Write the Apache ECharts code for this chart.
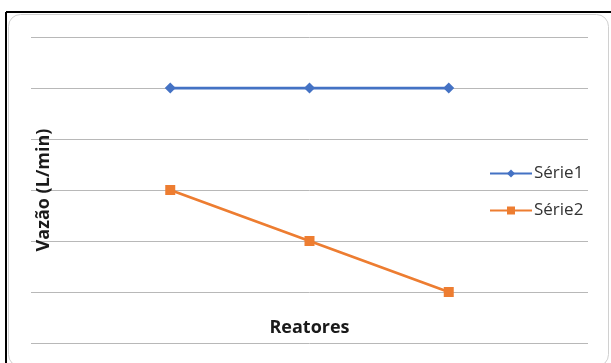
<!DOCTYPE html>
<html>
<head>
<meta charset="utf-8">
<script src="https://cdn.jsdelivr.net/npm/echarts@6/dist/echarts.min.js"></script>
<style>
  html, body { margin: 0; padding: 0; background: #fff; }
  #chart { width: 611px; height: 363px; }
</style>
</head>
<body>
<div id="chart"></div>
<script>
// Reactor positions along the x axis (outer slots stay empty, plot runs edge to edge)
const categories = ['', 'R1', 'R2', 'R3', ''];
const serie1 = [null, 5, 5, 5, null];
const serie2 = [null, 3, 2, 1, null];
const yMin = 0, yMax = 6, yStep = 1;

const chart = echarts.init(document.getElementById('chart'));
const font = '"Open Sans", "Noto Sans", sans-serif';

chart.setOption({
  animation: false,
  backgroundColor: '#fff',
  graphic: [
    // outer frame: black lines on top and left
    { type: 'line', shape: { x1: 6, y1: 12, x2: 611, y2: 12 }, style: { stroke: '#000', lineWidth: 2 } },
    { type: 'line', shape: { x1: 6, y1: 12, x2: 6, y2: 363 }, style: { stroke: '#000', lineWidth: 2 } },
    // inner rounded chart-area border
    { type: 'rect', shape: { x: 8.5, y: 14.5, width: 600, height: 352, r: 12 },
      style: { fill: 'none', stroke: '#d0d0d0', lineWidth: 1 }, z: -1 }
  ],
  grid: { left: 31, right: 23, top: 37, bottom: 20 },
  xAxis: {
    type: 'category',
    data: categories,
    boundaryGap: false,
    axisLine: { show: false },
    axisTick: { show: false },
    axisLabel: { show: false },
    splitLine: { show: false },
    name: 'Reatores',
    nameLocation: 'middle',
    nameGap: -24,
    nameTextStyle: { fontFamily: font, fontWeight: 'bold', fontSize: 18, color: '#1a1a1a' }
  },
  yAxis: {
    type: 'value',
    min: yMin, max: yMax, interval: yStep,
    axisLine: { show: false },
    axisTick: { show: false },
    axisLabel: { show: false },
    splitLine: { lineStyle: { color: '#b8b8b8', width: 1 } },
    name: 'Vazão (L/min)',
    nameLocation: 'middle',
    nameGap: -22,
    nameRotate: 90,
    nameTextStyle: { fontFamily: font, fontWeight: 'bold', fontSize: 18, color: '#1a1a1a' }
  },
  legend: {
    orient: 'vertical',
    left: 484,
    top: 160,
    itemGap: 20,
    itemWidth: 42,
    itemHeight: 10,
    textStyle: { fontFamily: font, fontSize: 17, color: '#333', padding: [0, 0, 0, -3] },
    data: ['Série1', 'Série2']
  },
  series: [
    {
      name: 'Série1', type: 'line', data: serie1,
      symbol: 'diamond', symbolSize: 11, showSymbol: true,
      lineStyle: { color: '#4472C4', width: 2.75 },
      itemStyle: { color: '#4472C4' },
      connectNulls: false
    },
    {
      name: 'Série2', type: 'line', data: serie2,
      symbol: 'rect', symbolSize: 10, showSymbol: true,
      lineStyle: { color: '#ED7D31', width: 2.75 },
      itemStyle: { color: '#ED7D31' },
      connectNulls: false
    }
  ]
});
</script>
</body>
</html>
